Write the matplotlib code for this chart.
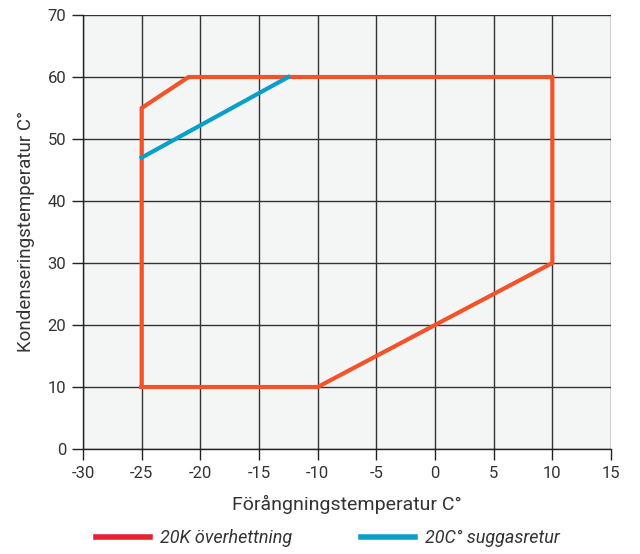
import matplotlib
matplotlib.use("Agg")
import matplotlib.pyplot as plt
from matplotlib.lines import Line2D

plt.rcParams['font.family'] = ['Roboto', 'DejaVu Sans']

env_x = [-25, -25, -21, 10, 10, -10, -25]
env_y = [10, 55, 60, 60, 30, 10, 10]
suc_x = [-25, -12.5]
suc_y = [47, 60]
xticks = list(range(-30, 16, 5))
yticks = list(range(0, 71, 10))
legend_labels = ["20K överhettning", "20C° suggasretur"]

fig = plt.figure(figsize=(6.4, 5.54), dpi=100)
ax = fig.add_axes([83/640, 1-449/554, (611-83)/640, (449-15)/554])
ax.set_facecolor('#f4f6f6')
ax.set_xlim(-30, 15)
ax.set_ylim(0, 70)
ax.set_xticks(xticks)
ax.set_yticks(yticks)
ax.set_xticklabels([str(v) for v in xticks])
ax.grid(True, color='#333333', linewidth=1.0)
ax.set_axisbelow(True)
for s in ['top', 'right']:
    ax.spines[s].set_visible(False)
for s in ['left', 'bottom']:
    ax.spines[s].set_color('#222222')
    ax.spines[s].set_linewidth(1.0)
ax.tick_params(axis='both', colors='#222222', labelcolor='#333333', labelsize=12, length=8, width=1.0, pad=4)

ax.plot(env_x, env_y, color='#f4532a', linewidth=3, solid_joinstyle='miter', zorder=3)
ax.plot(suc_x, suc_y, color='#0a9ecb', linewidth=3, zorder=4)

ax.set_xlabel("Förångningstemperatur C°", fontsize=14, color='#333333', labelpad=10)
ax.set_ylabel("Kondenseringstemperatur C°", fontsize=13.5, color='#333333', labelpad=9)

handles = [Line2D([], [], color='#e5212e', linewidth=4),
           Line2D([], [], color='#0a9ecb', linewidth=4)]
leg = fig.legend(handles, legend_labels, loc='center', bbox_to_anchor=(0.512, 1-538/554), ncol=2,
                 frameon=False, handlelength=3.0, columnspacing=3.8, handletextpad=0.55,
                 prop={'style': 'italic', 'size': 13})
for t in leg.get_texts():
    t.set_color('#333333')

fig.savefig('out.png', dpi=100)
